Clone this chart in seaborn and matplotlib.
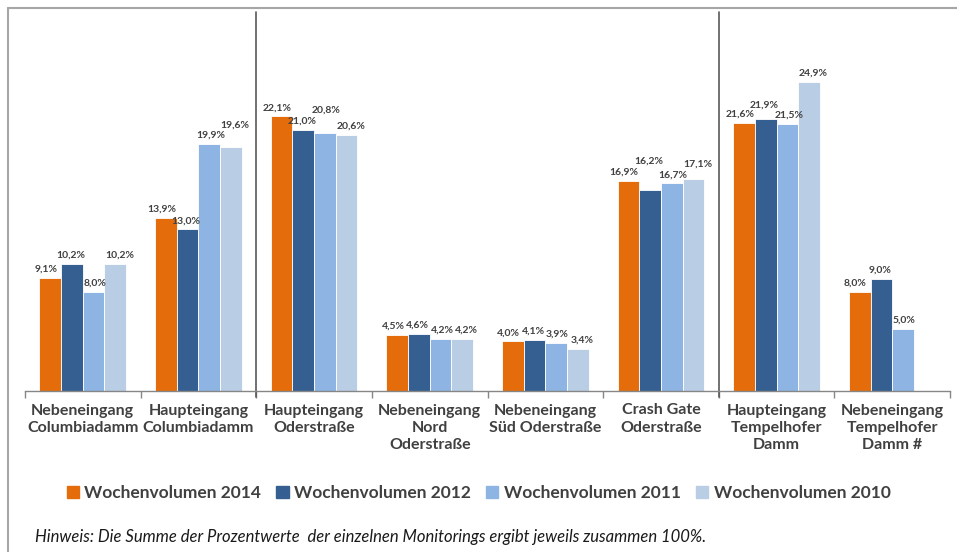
import matplotlib
matplotlib.use("Agg")
import matplotlib.pyplot as plt
import numpy as np
import pandas as pd
import seaborn as sns
from matplotlib.font_manager import FontProperties
from matplotlib.lines import Line2D

# Data
categories = [
    "Nebeneingang\nColumbiadamm",
    "Haupteingang\nColumbiadamm",
    "Haupteingang\nOderstraße",
    "Nebeneingang\nNord\nOderstraße",
    "Nebeneingang\nSüd Oderstraße",
    "Crash Gate\nOderstraße",
    "Haupteingang\nTempelhofer\nDamm",
    "Nebeneingang\nTempelhofer\nDamm #",
]
series = ["Wochenvolumen 2014", "Wochenvolumen 2012", "Wochenvolumen 2011", "Wochenvolumen 2010"]
vol_2014 = [9.1, 13.9, 22.1, 4.5, 4.0, 16.9, 21.6, 8.0]
vol_2012 = [10.2, 13.0, 21.0, 4.6, 4.1, 16.2, 21.9, 9.0]
vol_2011 = [8.0, 19.9, 20.8, 4.2, 3.9, 16.7, 21.5, 5.0]
vol_2010 = [10.2, 19.6, 20.6, 4.2, 3.4, 17.1, 24.9, np.nan]
colors = ["#E46C0A", "#365F91", "#8DB4E2", "#B9CDE5"]

rows = []
for name, vals in zip(series, [vol_2014, vol_2012, vol_2011, vol_2010]):
    for cat, v in zip(categories, vals):
        if not np.isnan(v):
            rows.append({"category": cat, "series": name, "value": v})
df = pd.DataFrame(rows)

sns.set_style("white")
plt.rcParams["font.family"] = ["Lato", "DejaVu Sans"]
text_color = "#404040"

fig = plt.figure(figsize=(9.57, 5.52), dpi=100)
ax = fig.add_axes([25 / 957, 1 - 391 / 552, 925 / 957, 379 / 552])

sns.barplot(
    data=df, x="category", y="value", hue="series",
    order=categories, hue_order=series, palette=colors, saturation=1,
    width=0.75, edgecolor="white", linewidth=0.6, ax=ax, errorbar=None,
)

ax.set_ylim(0, 30.5)
ax.set_xlim(-0.5, len(categories) - 0.5)
ax.set_xlabel("")
ax.set_ylabel("")
ax.set_yticks([])
for s in ["top", "right", "left"]:
    ax.spines[s].set_visible(False)
ax.spines["bottom"].set_color("#868686")
ax.spines["bottom"].set_linewidth(1.0)

ax.set_xticks(range(len(categories)))
ax.set_xticklabels(categories, fontsize=11.5, fontweight="bold", color=text_color,
                   linespacing=1.3)
ax.tick_params(axis="x", which="major", length=0, pad=9)
ax.set_xticks(np.arange(-0.5, len(categories)), minor=True)
ax.tick_params(axis="x", which="minor", length=5, color="#868686", width=1.0,
               direction="out", bottom=True)

# Data labels, grouped per category so crowded ones can be lifted
x_shift = [-3, -1, 1, 3]
labels_by_cat = {}
for i, cont in enumerate(ax.containers):
    for bar in cont:
        h = bar.get_height()
        if np.isnan(h):
            continue
        xc = bar.get_x() + bar.get_width() / 2
        ann = ax.annotate(
            f"{h:.1f}%".replace(".", ","),
            (xc, h), xytext=(x_shift[i], 3), textcoords="offset points",
            ha="center", va="bottom", fontsize=7.5,
            fontweight="bold", color=text_color,
        )
        labels_by_cat.setdefault(int(round(xc)), []).append(ann)

fig.canvas.draw()
renderer = fig.canvas.get_renderer()
for anns in labels_by_cat.values():
    placed = []
    for ann in anns:
        for _ in range(20):
            bb = ann.get_window_extent(renderer).expanded(1.04, 1.0)
            if not any(bb.overlaps(p) for p in placed):
                break
            dx, dy = ann.xyann
            ann.xyann = (dx, dy + 2)
        placed.append(ann.get_window_extent(renderer))

# Group separators
for xs in [1.5, 5.5]:
    ax.axvline(xs, ymin=-0.016, ymax=1.0, color="#595959", linewidth=1.2, clip_on=False)

# Legend
ax.get_legend().remove()
handles = [plt.Rectangle((0, 0), 1, 1, color=c) for c in colors]
leg_font = FontProperties(family="Lato", weight="bold", size=12.5)
leg = fig.legend(handles, series, loc="center", bbox_to_anchor=(0.5, 1 - 493 / 552),
                 ncol=4, frameon=False, handlelength=0.7, handleheight=0.7,
                 handletextpad=0.3, columnspacing=0.9, prop=leg_font)
for t in leg.get_texts():
    t.set_color(text_color)

# Footnote
fig.text(35 / 957, 1 - 537 / 552,
         "Hinweis: Die Summe der Prozentwerte  der einzelnen Monitorings ergibt jeweils zusammen 100%.",
         fontsize=12, style="italic", color="#1a1a1a", va="center", ha="left")

# Outer frame (top and left)
fig.add_artist(Line2D([8 / 957, 1], [1 - 8 / 552, 1 - 8 / 552], color="#a6a6a6", linewidth=1.5))
fig.add_artist(Line2D([8 / 957, 8 / 957], [0, 1 - 8 / 552], color="#a6a6a6", linewidth=1.5))

fig.savefig("out.png", dpi=100)
